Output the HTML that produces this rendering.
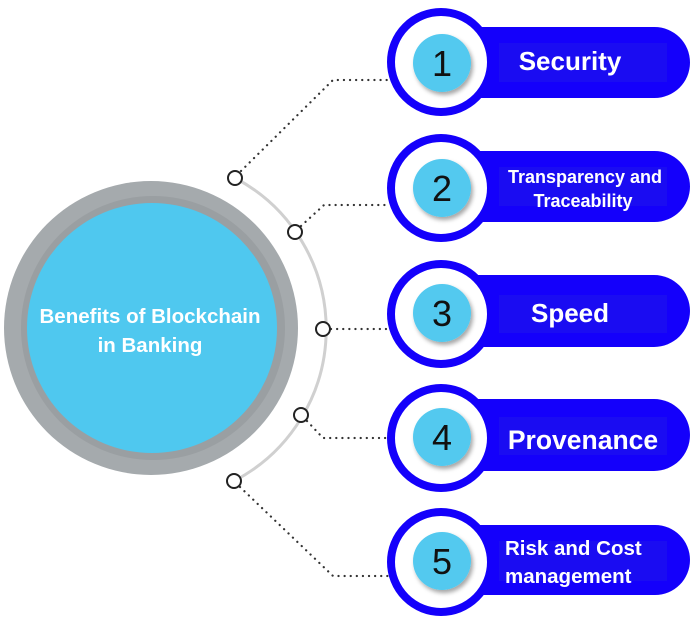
<!DOCTYPE html>
<html><head><meta charset="utf-8"><style>
html,body{margin:0;padding:0;background:#fff;}
svg{display:block;}
text{font-family:"Liberation Sans","DejaVu Sans",sans-serif;font-weight:bold;}
.n{font-weight:normal;}
</style></head><body>
<svg width="700" height="632" viewBox="0 0 700 632" xmlns="http://www.w3.org/2000/svg">
<defs>
<filter id="sh" x="-30%" y="-30%" width="160%" height="160%"><feDropShadow dx="2" dy="3" stdDeviation="2" flood-color="#000" flood-opacity="0.35"/></filter>
</defs>
<circle cx="151" cy="328" r="147" fill="#a5aaad"/>
<circle cx="153" cy="328" r="132" fill="#8f9497" opacity="0.5"/>
<circle cx="152" cy="328" r="125" fill="#4fc8ef"/>
<text x="150" y="323" font-size="20.5" fill="#fff" text-anchor="middle">Benefits of Blockchain</text>
<text x="150" y="352" font-size="20.5" fill="#fff" text-anchor="middle">in Banking</text>
<path d="M235 178 A171 171 0 0 1 234 481" fill="none" stroke="#d0d0d0" stroke-width="3"/>
<g fill="none" stroke="#333" stroke-width="2.2" stroke-dasharray="0.1 6" stroke-linecap="round">
<path d="M241 171 L333 80 L390 80"/>
<path d="M301 226 L324 205 L390 205"/>
<path d="M331 329 L390 329"/>
<path d="M307 421 L323 438 L390 438"/>
<path d="M240 487 L333 576 L390 576"/>
</g>
<g fill="#fff" stroke="#222" stroke-width="2">
<circle cx="235" cy="178" r="7"/>
<circle cx="295" cy="232" r="7"/>
<circle cx="323" cy="329" r="7"/>
<circle cx="301" cy="415" r="7"/>
<circle cx="234" cy="481" r="7"/>
</g>
<g>
<rect x="430" y="27" width="260" height="71" rx="35.5" fill="#1400fb"/>
<rect x="499" y="43" width="168" height="39" fill="#1a0cf2"/>
<circle cx="441" cy="62" r="50" fill="#fff" stroke="#1400fb" stroke-width="8"/>
<circle cx="442" cy="63" r="29" fill="#52c9ef" filter="url(#sh)"/>
<text class="n" x="442" y="76" font-size="36" fill="#111" text-anchor="middle">1</text>
<text x="570" y="70" font-size="26" fill="#fff" text-anchor="middle">Security</text>
</g>
<g>
<rect x="430" y="151" width="260" height="71" rx="35.5" fill="#1400fb"/>
<rect x="499" y="167" width="168" height="39" fill="#1a0cf2"/>
<circle cx="441" cy="188" r="50" fill="#fff" stroke="#1400fb" stroke-width="8"/>
<circle cx="442" cy="188" r="29" fill="#52c9ef" filter="url(#sh)"/>
<text class="n" x="442" y="201" font-size="36" fill="#111" text-anchor="middle">2</text>
<text x="585" y="183" font-size="18" fill="#fff" text-anchor="middle">Transparency and</text>
<text x="583" y="207" font-size="18" fill="#fff" text-anchor="middle">Traceability</text>
</g>
<g>
<rect x="430" y="275" width="260" height="72" rx="36" fill="#1400fb"/>
<rect x="499" y="295" width="168" height="38" fill="#1a0cf2"/>
<circle cx="441" cy="314" r="50" fill="#fff" stroke="#1400fb" stroke-width="8"/>
<circle cx="442" cy="313" r="29" fill="#52c9ef" filter="url(#sh)"/>
<text class="n" x="442" y="326" font-size="36" fill="#111" text-anchor="middle">3</text>
<text x="570" y="322" font-size="26" fill="#fff" text-anchor="middle">Speed</text>
</g>
<g>
<rect x="430" y="399" width="260" height="72" rx="36" fill="#1400fb"/>
<rect x="499" y="417" width="168" height="38" fill="#1a0cf2"/>
<circle cx="441" cy="438" r="50" fill="#fff" stroke="#1400fb" stroke-width="8"/>
<circle cx="442" cy="437" r="29" fill="#52c9ef" filter="url(#sh)"/>
<text class="n" x="442" y="450" font-size="36" fill="#111" text-anchor="middle">4</text>
<text x="583" y="449" font-size="26.5" fill="#fff" text-anchor="middle">Provenance</text>
</g>
<g>
<rect x="430" y="525" width="260" height="70" rx="35" fill="#1400fb"/>
<rect x="499" y="541" width="168" height="40" fill="#1a0cf2"/>
<circle cx="441" cy="562" r="50" fill="#fff" stroke="#1400fb" stroke-width="8"/>
<circle cx="442" cy="561" r="29" fill="#52c9ef" filter="url(#sh)"/>
<text class="n" x="442" y="574" font-size="36" fill="#111" text-anchor="middle">5</text>
<text x="505" y="555" font-size="20.5" fill="#fff">Risk and Cost</text>
<text x="505" y="583" font-size="20.5" fill="#fff">management</text>
</g>
</svg>
</body></html>
